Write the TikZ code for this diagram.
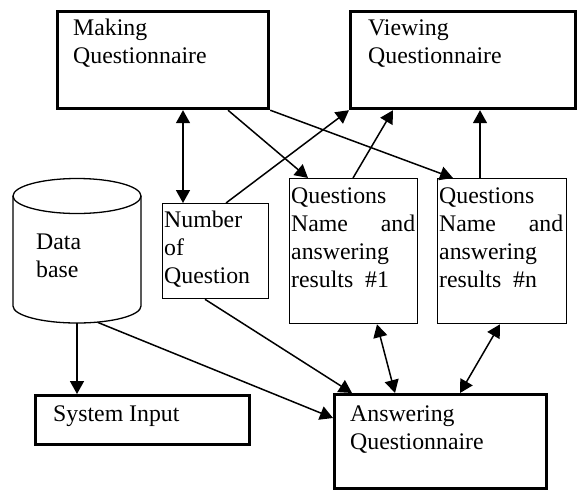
\documentclass[tikz,border=0pt]{standalone}
\usepackage{fontspec}
\setmainfont{Liberation Serif}
\usetikzlibrary{arrows.meta}
\newcommand{\mylines}[2]{\parbox[t]{#1}{\setlength{\baselineskip}{28pt}#2}}
\begin{document}
\begin{tikzpicture}[x=1pt,y=-1pt,
  thickbox/.style={draw,line width=3.2pt,rectangle,anchor=north west,inner sep=0pt},
  thinbox/.style={draw,line width=1.3pt,rectangle,anchor=north west,inner sep=0pt},
  txt/.style={anchor=base west,inner sep=0pt,font=\fontsize{23.8}{28}\selectfont},
  conn/.style={line width=1.5pt,-{Triangle[length=13pt,width=14pt]}},
  dconn/.style={line width=1.5pt,{Triangle[length=13pt,width=14pt]}-{Triangle[length=13pt,width=14pt]}}]
\useasboundingbox (0,0) rectangle (578,491);
% boxes
\node[thickbox,minimum width=211pt,minimum height=97pt] (mq) at (56,10) {};
\node[thickbox,minimum width=225pt,minimum height=97pt] (vq) at (349,10) {};
\node[thinbox,minimum width=106pt,minimum height=95pt] (nq) at (162,203) {};
\node[thinbox,minimum width=128pt,minimum height=145pt] (q1) at (289,178) {};
\node[thinbox,minimum width=129pt,minimum height=145pt] (qn) at (437,178) {};
\node[thickbox,minimum width=214pt,minimum height=49pt] (si) at (34,394) {};
\node[thickbox,minimum width=212pt,minimum height=94pt] (aq) at (333,393) {};
% database cylinder
\draw[line width=1.3pt] (77,196) ellipse [x radius=64, y radius=17.5];
\draw[line width=1.3pt] (13,196) -- (13,306) arc[start angle=180,end angle=0,x radius=64,y radius=17] -- (141,196);
\coordinate (dbA) at (77,323);
\coordinate (dbB) at (98,322.5);
% texts
\node[txt] (mqt) at (73,35) {\mylines{200pt}{Making\\Questionnaire}};
\node[txt] (vqt) at (368,35) {\mylines{200pt}{Viewing\\Questionnaire}};
\node[txt] (dbt) at (36,249) {\mylines{100pt}{Data\\base}};
\node[txt] (nqt) at (164,227) {\mylines{100pt}{Number\\of\\Question}};
\node[txt] (q1t) at (291,203) {\mylines{124pt}{Questions\\Name \hfill and\\answering\\results~~\#1}};
\node[txt] (qnt) at (439,203) {\mylines{124pt}{Questions\\Name \hfill and\\answering\\results~~\#n}};
\node[txt] (sit) at (53,421) {System Input};
\node[txt] (aqt) at (350,421) {\mylines{200pt}{Answering\\Questionnaire}};
% connectors
\draw[dconn] ([xshift=127pt]mq.south west) -- ([xshift=21pt]nq.north west);
\draw[conn] ([xshift=172pt]mq.south west) -- ([xshift=19pt]q1.north west);
\draw[conn] (mq.south east) -- ([xshift=16pt]qn.north west);
\draw[conn] ([xshift=64pt]nq.north west) -- (vq.south west);
\draw[conn] ([xshift=64pt]q1.north west) -- ([xshift=44pt]vq.south west);
\draw[conn] ([xshift=43pt]qn.north west) -- ([xshift=131pt]vq.south west);
\draw[conn] ([xshift=43pt]nq.south west) -- ([xshift=19pt]aq.north west);
\draw[conn] (dbB) -- ([yshift=-25pt]aq.north west);
\draw[conn] (dbA) -- ([xshift=43pt]si.north west);
\draw[dconn] ([xshift=88pt]q1.south west) -- ([xshift=62pt]aq.north west);
\draw[dconn] ([xshift=63pt]qn.south west) -- ([xshift=127pt]aq.north west);
\end{tikzpicture}
\end{document}
